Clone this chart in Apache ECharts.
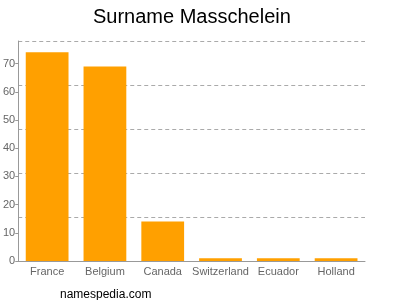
<!DOCTYPE html>
<html><head><meta charset="utf-8">
<script src="https://cdn.jsdelivr.net/npm/echarts@6/dist/echarts.min.js"></script>
<style>html,body{margin:0;padding:0;background:#fff}#c{width:400px;height:300px}</style>
</head><body><div id="c"></div>
<script>
var categories = ['France', 'Belgium', 'Canada', 'Switzerland', 'Ecuador', 'Holland'];
var counts = [74, 69, 14, 1, 1, 1];
var yMax = 78;
var chart = echarts.init(document.getElementById('c'), null, {renderer: 'canvas'});
var font = "'Liberation Sans', Arial, sans-serif";
chart.setOption({
  animation: false,
  title: [{text: 'Surname Masschelein', left: 88, top: 2, textStyle: {fontFamily: font, fontSize: 20, fontWeight: 'normal', color: '#000'}},
          {text: 'namespedia.com', left: 55, top: 284, textStyle: {fontFamily: font, fontSize: 12, fontWeight: 'normal', color: '#000'}}],
  grid: {left: 18, right: 35, top: 41, bottom: 39},
  xAxis: {type: 'category', data: categories,
    axisLine: {lineStyle: {color: '#999'}},
    axisTick: {alignWithLabel: true, length: 4, lineStyle: {color: '#999'}},
    axisLabel: {fontFamily: font, fontSize: 11, color: '#666', margin: 5, interval: 0}},
  yAxis: [{type: 'value', min: 0, max: yMax, interval: 10,
    axisLine: {show: true, lineStyle: {color: '#999'}},
    axisTick: {show: true, length: 3, lineStyle: {color: '#999'}},
    axisLabel: {fontFamily: font, fontSize: 11, color: '#666', margin: 3, showMaxLabel: false},
    splitLine: {show: false}},
   {type: 'value', min: 0, max: yMax, interval: yMax / 5, position: 'left',
    axisLine: {show: false}, axisTick: {show: false}, axisLabel: {show: false},
    splitLine: {show: true, lineStyle: {color: '#aaa', type: [4, 3], width: 1}}}],
  series: [{type: 'bar', data: counts, barWidth: '74%', yAxisIndex: 0,
    itemStyle: {color: '#FFA000'}}]
});
</script></body></html>
